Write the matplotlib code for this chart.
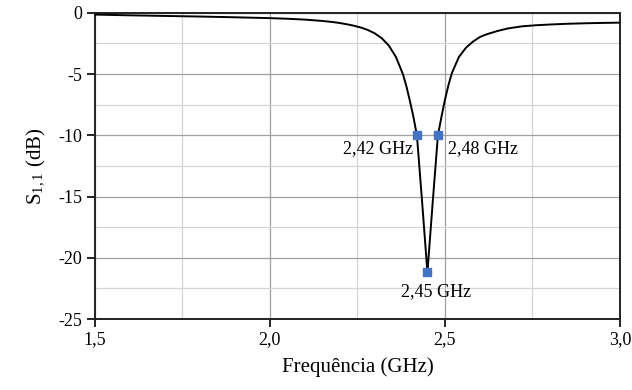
import numpy as np
import matplotlib.pyplot as plt
from matplotlib.ticker import MultipleLocator, FuncFormatter

plt.rcParams['font.family'] = ['Liberation Serif', 'DejaVu Serif']
plt.rcParams['mathtext.fontset'] = 'stix'

# S11 curve
freq = [1.50, 1.60, 1.70, 1.80, 1.90, 2.00, 2.05, 2.10, 2.15, 2.18, 2.20,
        2.22, 2.24, 2.26, 2.28, 2.30, 2.32, 2.34, 2.36, 2.38, 2.39, 2.40,
        2.41, 2.42, 2.435, 2.45, 2.465, 2.48, 2.49, 2.50, 2.51, 2.52, 2.54,
        2.56, 2.58, 2.60, 2.62, 2.65, 2.68, 2.72, 2.76, 2.80, 2.85, 2.90,
        2.95, 3.00]
s11 = [-0.14, -0.20, -0.25, -0.30, -0.36, -0.43, -0.48, -0.55, -0.66, -0.75, -0.83,
       -0.93, -1.05, -1.20, -1.40, -1.68, -2.08, -2.68, -3.60, -5.00, -6.00, -7.20,
       -8.50, -10.0, -15.5, -21.2, -15.5, -10.0, -8.5, -7.1, -5.9, -4.9, -3.6,
       -2.85, -2.35, -1.97, -1.74, -1.48, -1.27, -1.10, -1.01, -0.95, -0.89, -0.85,
       -0.82, -0.80]

mark_f = [2.42, 2.48, 2.45]
mark_s = [-10.0, -10.0, -21.2]
mark_lbl = ['2,42 GHz', '2,48 GHz', '2,45 GHz']

fig = plt.figure(figsize=(6.32, 3.9), dpi=100)
ax = fig.add_axes([0.150, 0.182, 0.831, 0.785])

ax.plot(freq, s11, color='black', lw=1.4, zorder=3)
ax.plot(mark_f, mark_s, 's', color='#4472C4', ms=6, zorder=4)

ax.annotate(mark_lbl[0], (mark_f[0], mark_s[0]), xytext=(-3, -9.5), textcoords='offset points',
            ha='right', va='center', fontsize=13)
ax.annotate(mark_lbl[1], (mark_f[1], mark_s[1]), xytext=(7, -9.5), textcoords='offset points',
            ha='left', va='center', fontsize=13)
ax.annotate(mark_lbl[2], (mark_f[2], mark_s[2]), xytext=(6.5, -14), textcoords='offset points',
            ha='center', va='center', fontsize=13)

ax.set_xlim(1.5, 3.0)
ax.set_ylim(-25, 0)
ax.xaxis.set_major_locator(MultipleLocator(0.5))
ax.xaxis.set_minor_locator(MultipleLocator(0.25))
ax.yaxis.set_major_locator(MultipleLocator(5))
ax.yaxis.set_minor_locator(MultipleLocator(2.5))
ax.xaxis.set_major_formatter(FuncFormatter(lambda v, p: f'{v:.1f}'.replace('.', ',')))
ax.yaxis.set_major_formatter(FuncFormatter(lambda v, p: f'{v:.0f}'))

ax.grid(which='major', color='#a0a0a0', lw=0.9)
ax.grid(which='minor', color='#d4d4d4', lw=0.9)
ax.set_axisbelow(True)

ax.tick_params(which='major', direction='out', length=6, width=1.2, labelsize=13, pad=3)
ax.tick_params(which='minor', length=0)
for s in ax.spines.values():
    s.set_linewidth(1.4)
    s.set_color('#222222')

ax.set_xlabel('Frequência (GHz)', fontsize=15, labelpad=6)
ax.set_ylabel('S$_\\mathregular{1,1}$ (dB)', fontsize=15, labelpad=8)

fig.savefig('out.png', dpi=100)
